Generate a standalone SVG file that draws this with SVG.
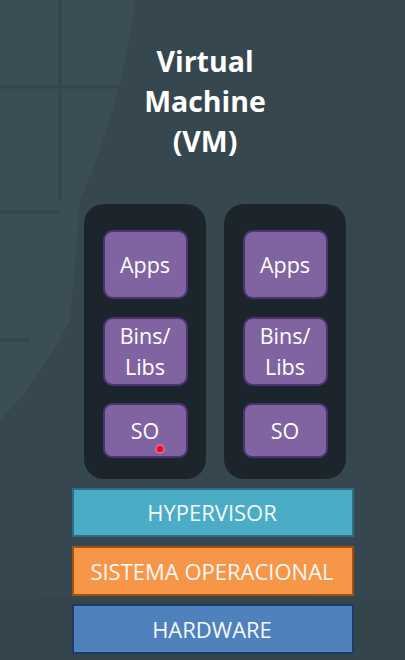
<svg xmlns="http://www.w3.org/2000/svg" width="405" height="660" viewBox="0 0 405 660">
<style>
.title{font-family:"Open Sans","Noto Sans","Liberation Sans",sans-serif;font-weight:bold;font-size:28.5px;fill:#ffffff;text-anchor:middle}
.vm{fill:#1c252b}
.box{fill:#8064a2;stroke:#4e3370;stroke-width:2}
.lbl{font-family:"Open Sans","Noto Sans","Liberation Sans",sans-serif;font-size:21.5px;fill:#ffffff;text-anchor:middle}
.layer{font-family:"Open Sans","Noto Sans","Liberation Sans",sans-serif;font-size:22px;fill:#f4f8fb;text-anchor:middle}
</style>
<rect x="0" y="0" width="405" height="660" fill="#37474f"/>
<path d="M0 0 H136 Q120 110 80 200 L70 320 Q40 380 0 420 Z" fill="#3b4d55"/>
<path d="M0 87 H120 M0 212 H60 M60 0 V200 M0 340 H30" stroke="#35454c" stroke-width="3" fill="none"/>
<path d="M0 600 Q200 590 405 600 V660 H0 Z" fill="#35454c"/>
<g id="title">
<text class="title" x="205" y="72">Virtual</text>
<text class="title" x="205" y="112">Machine</text>
<text class="title" x="205" y="152">(VM)</text>
</g>
<g id="vm1">
<rect class="vm" x="84" y="204" width="122" height="275" rx="20"/>
</g>
<g id="vm2">
<rect class="vm" x="224" y="204" width="122" height="275" rx="20"/>
</g>
<g id="apps1"><rect class="box" x="104" y="231" width="83" height="67" rx="9"/><text class="lbl" x="145" y="273">Apps</text></g>
<g id="bins1"><rect class="box" x="104" y="318" width="83" height="67" rx="9"/><text class="lbl" x="145" y="344">Bins/</text><text class="lbl" x="145" y="375">Libs</text></g>
<g id="so1"><rect class="box" x="104" y="404" width="83" height="53" rx="8"/><text class="lbl" x="145" y="439">SO</text></g>
<g id="apps2"><rect class="box" x="244" y="231" width="83" height="67" rx="9"/><text class="lbl" x="285" y="273">Apps</text></g>
<g id="bins2"><rect class="box" x="244" y="318" width="83" height="67" rx="9"/><text class="lbl" x="285" y="344">Bins/</text><text class="lbl" x="285" y="375">Libs</text></g>
<g id="so2"><rect class="box" x="244" y="404" width="83" height="53" rx="8"/><text class="lbl" x="285" y="439">SO</text></g>
<circle cx="160" cy="449" r="4" fill="#e0103a" stroke="#ff6a80" stroke-width="1.5"/>
<g id="hypervisor"><rect x="73" y="489" width="280" height="47" fill="#4bacc6" stroke="#2a6f86" stroke-width="2"/><text class="layer" x="212" y="521">HYPERVISOR</text></g>
<g id="so-host"><rect x="73" y="547" width="280" height="48" fill="#f79646" stroke="#a5500f" stroke-width="2"/><text class="layer" x="212" y="580">SISTEMA OPERACIONAL</text></g>
<g id="hardware"><rect x="73" y="605" width="280" height="48" fill="#4f81bd" stroke="#1f3a66" stroke-width="2"/><text class="layer" x="212" y="638">HARDWARE</text></g>
<g id="connectors"/>
</svg>
